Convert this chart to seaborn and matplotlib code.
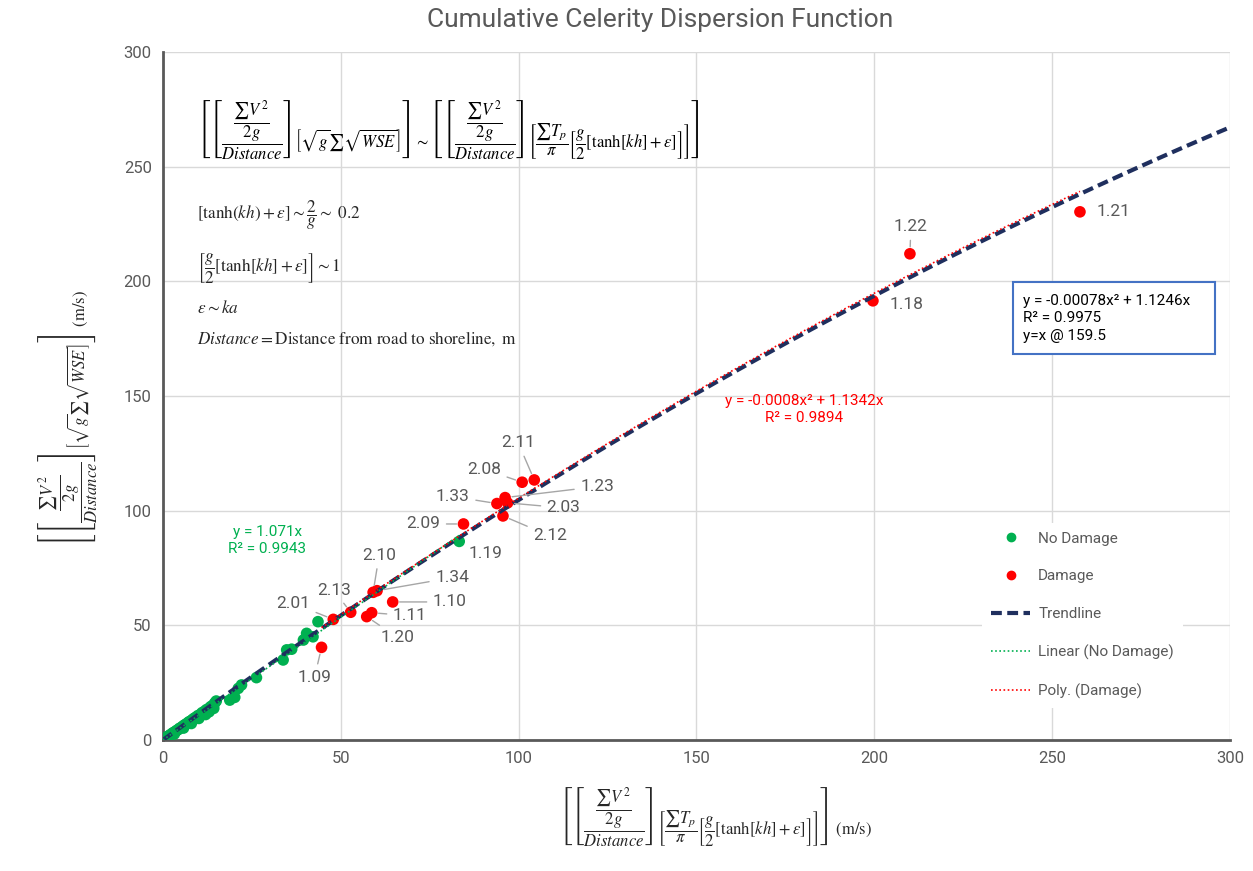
import numpy as np
import pandas as pd
import matplotlib
matplotlib.use("Agg")
import matplotlib.pyplot as plt
from matplotlib.lines import Line2D
from matplotlib.patches import Rectangle
import seaborn as sns

# --- data ---
no_damage_x = [0.5, 0.8, 1.0, 1.3, 1.6, 2.0, 2.3, 2.7, 3.0, 3.4, 3.8, 4.2, 4.6, 5.0,
               5.5, 6.0, 6.4, 6.9, 7.3, 7.8, 8.3, 8.8, 9.3, 9.8, 10.4, 11.0, 11.6,
               12.2, 12.8, 13.4, 14.0, 14.3, 14.6, 15.0, 18.8, 20.2, 21.2, 22.1,
               26.3, 33.8, 34.8, 36.2, 39.5, 40.4, 42.2, 43.6, 83.3,
               3.2, 5.8, 8.0, 10.1, 12.0, 13.0]
no_damage_y = [0.6, 0.9, 1.1, 1.5, 1.7, 2.2, 2.4, 3.0, 3.2, 3.6, 4.1, 4.4, 5.0, 5.3,
               5.9, 6.5, 6.8, 7.4, 7.9, 8.3, 8.9, 9.5, 9.9, 10.6, 11.0, 11.9, 12.4,
               13.2, 13.6, 14.5, 15.1, 13.8, 16.2, 17.0, 17.4, 18.6, 22.5, 24.0,
               27.2, 34.9, 39.3, 39.6, 43.6, 46.5, 45.0, 51.6, 86.6,
               2.6, 5.2, 7.2, 9.4, 11.1, 12.3]

damage_labels = ["1.21", "1.22", "1.18", "2.11", "2.08", "1.23", "1.33", "2.03", "2.12",
                 "2.09", "2.10", "1.34", "1.10", "1.11", "1.20", "2.13", "2.01", "1.09"]
damage_x = [257.8, 210.0, 199.6, 104.4, 101.0, 96.2, 93.9, 96.9, 95.6,
            84.5, 59.1, 60.2, 64.6, 58.7, 57.3, 52.8, 47.9, 44.6]
damage_y = [230.3, 212.0, 191.5, 113.4, 112.4, 105.7, 103.1, 103.4, 97.7,
            94.2, 64.4, 65.1, 60.2, 55.5, 53.8, 55.7, 52.6, 40.4]

# one labelled no-damage point
nd_label, nd_label_x, nd_label_y = "1.19", 83.3, 86.6

# trendline coefficients printed on the chart
trend_a, trend_b = -0.00078, 1.1246
poly_a, poly_b = -0.0008, 1.1342
lin_b = 1.071

ticks = [0, 50, 100, 150, 200, 250, 300]

# label offsets (pixels) and whether a leader line is drawn
label_offsets = {
    "1.21": (34, 0, False), "1.22": (1, 27, True), "1.18": (34, -4, False),
    "2.11": (-16, 37, True), "2.08": (-38, 13, True), "1.23": (92, 11, True),
    "1.33": (-44, 7, True), "2.03": (56, -5, True), "2.12": (47, -20, True),
    "2.09": (-40, 0, True), "2.10": (6, 37, True), "1.34": (75, 13, True),
    "1.10": (57, 0, True), "1.11": (38, -3, True), "1.20": (31, -21, True),
    "2.13": (-17, 22, True), "2.01": (-40, 16, True), "1.09": (-7, -30, True),
    "1.19": (26, -12, False),
}

GREEN = "#00B050"
RED = "#FF0000"
NAVY = "#1F2F5E"
GRAY = "#595959"

df = pd.DataFrame({
    "x": no_damage_x + damage_x,
    "y": no_damage_y + damage_y,
    "status": ["No Damage"] * len(no_damage_x) + ["Damage"] * len(damage_x),
})

sns.set_theme(style="white")
plt.rcParams["font.family"] = ["Roboto", "DejaVu Sans"]
plt.rcParams["mathtext.fontset"] = "stix"

fig = plt.figure(figsize=(12.53, 8.71), dpi=100)
ax = fig.add_axes([0.130, 0.1504, 0.8517, 0.7899])

sns.scatterplot(data=df, x="x", y="y", hue="status",
                palette={"No Damage": GREEN, "Damage": RED},
                s=70, edgecolor="none", legend=False, ax=ax, zorder=3)

xs = np.linspace(0, 300, 300)
sns.lineplot(x=xs, y=trend_a * xs ** 2 + trend_b * xs, color=NAVY, lw=3, ax=ax, zorder=4)
ax.lines[-1].set_linestyle((0, (2.6, 1.3)))
xl = np.linspace(0, max(no_damage_x), 50)
sns.lineplot(x=xl, y=lin_b * xl, color=GREEN, lw=1.2, ax=ax, zorder=5)
ax.lines[-1].set_linestyle((0, (1, 1.5)))
xp = np.linspace(min(damage_x), max(damage_x), 200)
sns.lineplot(x=xp, y=poly_a * xp ** 2 + poly_b * xp, color=RED, lw=1.2, ax=ax, zorder=5)
ax.lines[-1].set_linestyle((0, (1, 1.5)))

# point labels
lab_x = dict(zip(damage_labels, damage_x))
lab_y = dict(zip(damage_labels, damage_y))
lab_x[nd_label], lab_y[nd_label] = nd_label_x, nd_label_y
for name, (dx, dy, leader) in label_offsets.items():
    props = dict(arrowstyle="-", color="#A6A6A6", lw=1, shrinkA=2, shrinkB=5) if leader else None
    ax.annotate(name, (lab_x[name], lab_y[name]), xytext=(dx, dy),
                textcoords="offset pixels", ha="center", va="center",
                fontsize=12.5, color=GRAY, arrowprops=props, zorder=6)

ax.set_xlim(0, 300)
ax.set_ylim(0, 300)
ax.set_xticks(ticks)
ax.set_yticks(ticks)
ax.tick_params(axis="both", labelsize=12, labelcolor=GRAY, length=0, pad=8)
ax.grid(True, color="#D9D9D9", lw=1)
for side in ["top", "right"]:
    ax.spines[side].set_visible(False)
for side in ["left", "bottom"]:
    ax.spines[side].set_color(GRAY)
    ax.spines[side].set_linewidth(2)

ratio = r"\left[\dfrac{\dfrac{\sum V^2}{2g}}{Distance}\right]"
ax.set_xlabel(r"$\left[" + ratio +
              r"\left[\dfrac{\sum T_p}{\pi}\left[\dfrac{g}{2}[\tanh[kh]+\epsilon]\right]\right]\right]"
              r"\ \mathrm{(m/s)}$", fontsize=12)
ax.xaxis.set_label_coords(0.518, -0.065)
ax.set_ylabel(r"$\left[" + ratio +
              r"\left[\sqrt{g}\sum\sqrt{WSE}\right]\right]\ \mathrm{(m/s)}$", fontsize=12)
ax.yaxis.set_label_coords(-0.06, 0.468)

fig.text(0.527, 0.977, "Cumulative Celerity Dispersion Function", ha="center", va="center",
         fontsize=19, color=GRAY)

# formulas in the upper left
ax.text(0.032, 0.887,
        r"$\left[" + ratio + r"\left[\sqrt{g}\sum\sqrt{WSE}\right]\right]"
        r"{\sim}\left[" + ratio +
        r"\left[\dfrac{\sum T_p}{\pi}\left[\dfrac{g}{2}[\tanh[kh]+\epsilon]\right]\right]\right]$",
        transform=ax.transAxes, ha="left", va="center", fontsize=12, color="black")
ax.text(0.032, 0.763, r"$[\tanh(kh)+\epsilon]{\sim}\dfrac{2}{g}{\sim}\ 0.2$",
        transform=ax.transAxes, ha="left", va="center", fontsize=12.3)
ax.text(0.032, 0.686, r"$\left[\dfrac{g}{2}[\tanh[kh]+\epsilon]\right]{\sim}1$",
        transform=ax.transAxes, ha="left", va="center", fontsize=12.3)
ax.text(0.032, 0.628, r"$\epsilon{\sim}ka$",
        transform=ax.transAxes, ha="left", va="center", fontsize=12.3)
ax.text(0.032, 0.584, r"$Distance = \mathrm{Distance\ from\ road\ to\ shoreline,\ m}$",
        transform=ax.transAxes, ha="left", va="center", fontsize=12.3)

# trendline equations
ax.text(0.098, 0.29, "y = 1.071x\nR² = 0.9943", transform=ax.transAxes, ha="center",
        va="center", fontsize=11, color=GREEN, linespacing=1.3)
ax.text(0.601, 0.48, "y = -0.0008x² + 1.1342x\nR² = 0.9894", transform=ax.transAxes,
        ha="center", va="center", fontsize=11, color=RED, linespacing=1.3)
ax.add_patch(Rectangle((0.797, 0.561), 0.189, 0.105, transform=ax.transAxes,
                       facecolor="white", edgecolor="#4472C4", lw=1.5, zorder=6))
ax.text(0.806, 0.613, "y = -0.00078x² + 1.1246x\nR² = 0.9975\ny=x @ 159.5",
        transform=ax.transAxes, ha="left", va="center", fontsize=11, color="black",
        linespacing=1.3, zorder=7)

handles = [
    Line2D([], [], marker="o", ls="none", color=GREEN, markersize=6),
    Line2D([], [], marker="o", ls="none", color=RED, markersize=6),
    Line2D([], [], color=NAVY, lw=3, ls=(0, (2.6, 1.3))),
    Line2D([], [], color=GREEN, lw=1.2, ls=(0, (1, 1.5))),
    Line2D([], [], color=RED, lw=1.2, ls=(0, (1, 1.5))),
]
labels = ["No Damage", "Damage", "Trendline", "Linear (No Damage)", "Poly. (Damage)"]
leg = ax.legend(handles, labels, loc="lower left", bbox_to_anchor=(0.76, 0.035),
                frameon=True, fontsize=11, labelspacing=1.55, handlelength=2.6,
                handletextpad=0.5, borderpad=0.6)
leg.get_frame().set_edgecolor("none")
leg.get_frame().set_facecolor("white")
leg.get_frame().set_alpha(1)
for t in leg.get_texts():
    t.set_color(GRAY)

fig.savefig("out.png", dpi=100)
